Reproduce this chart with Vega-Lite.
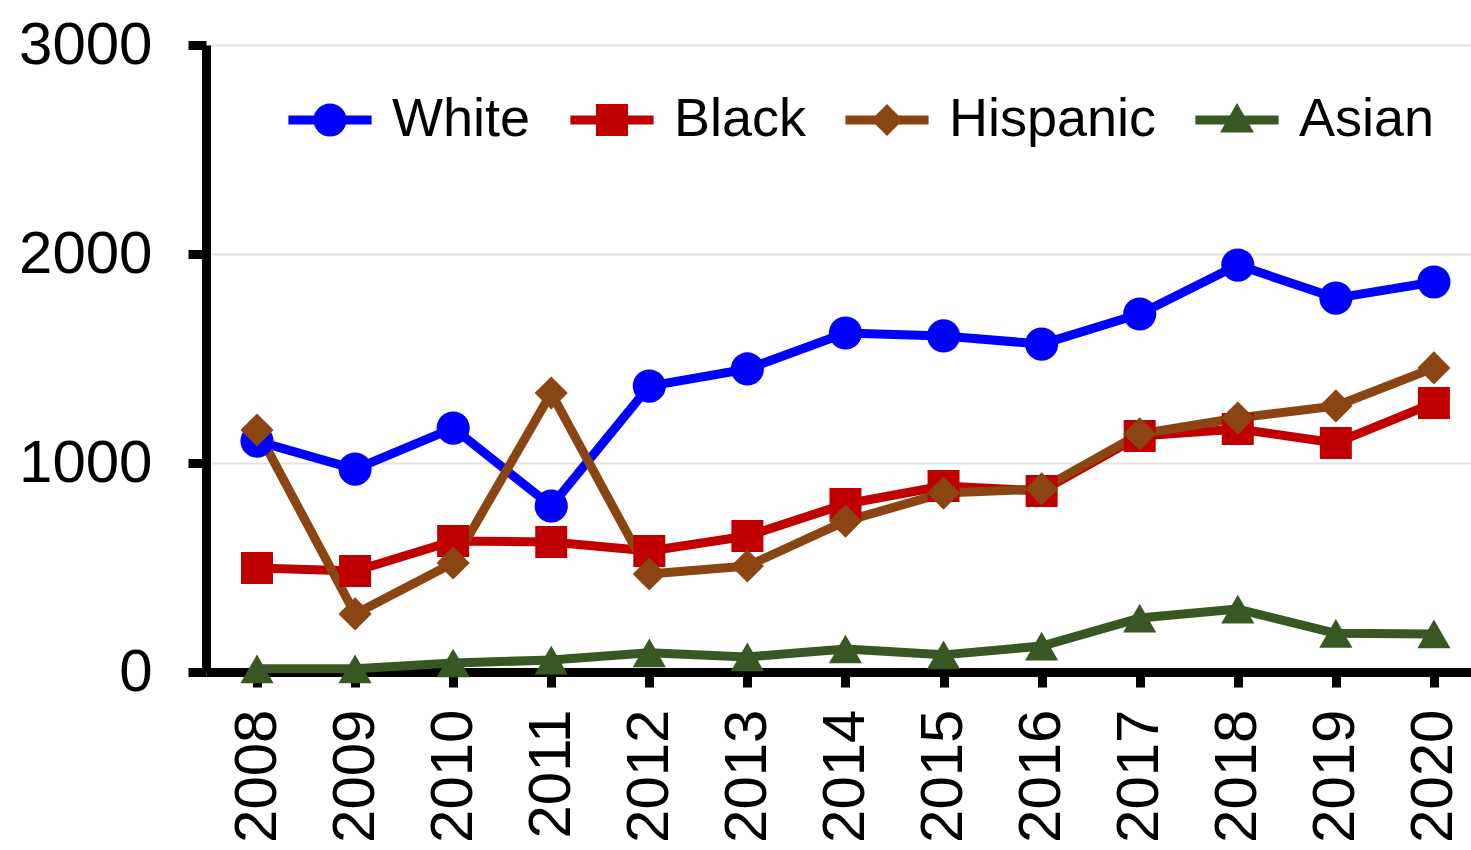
{
  "$schema": "https://vega.github.io/schema/vega-lite/v6.json",
  "width": 1265,
  "height": 627,
  "autosize": {"type": "none"},
  "padding": {"left": 206, "top": 45, "right": 0, "bottom": 178},
  "background": "white",
  "config": {
    "view": {"stroke": null},
    "font": "Liberation Sans"
  },
  "data": {
    "values": [
      {"year": 2008, "series": "White", "value": 1105},
      {"year": 2009, "series": "White", "value": 971},
      {"year": 2010, "series": "White", "value": 1167},
      {"year": 2011, "series": "White", "value": 794},
      {"year": 2012, "series": "White", "value": 1368},
      {"year": 2013, "series": "White", "value": 1450},
      {"year": 2014, "series": "White", "value": 1622},
      {"year": 2015, "series": "White", "value": 1608},
      {"year": 2016, "series": "White", "value": 1569},
      {"year": 2017, "series": "White", "value": 1713},
      {"year": 2018, "series": "White", "value": 1947},
      {"year": 2019, "series": "White", "value": 1789},
      {"year": 2020, "series": "White", "value": 1866},
      {"year": 2008, "series": "Black", "value": 498},
      {"year": 2009, "series": "Black", "value": 483},
      {"year": 2010, "series": "Black", "value": 627},
      {"year": 2011, "series": "Black", "value": 622},
      {"year": 2012, "series": "Black", "value": 579},
      {"year": 2013, "series": "Black", "value": 651},
      {"year": 2014, "series": "Black", "value": 804},
      {"year": 2015, "series": "Black", "value": 890},
      {"year": 2016, "series": "Black", "value": 866},
      {"year": 2017, "series": "Black", "value": 1129},
      {"year": 2018, "series": "Black", "value": 1163},
      {"year": 2019, "series": "Black", "value": 1096},
      {"year": 2020, "series": "Black", "value": 1287},
      {"year": 2008, "series": "Hispanic", "value": 1158},
      {"year": 2009, "series": "Hispanic", "value": 278},
      {"year": 2010, "series": "Hispanic", "value": 522},
      {"year": 2011, "series": "Hispanic", "value": 1335},
      {"year": 2012, "series": "Hispanic", "value": 469},
      {"year": 2013, "series": "Hispanic", "value": 507},
      {"year": 2014, "series": "Hispanic", "value": 722},
      {"year": 2015, "series": "Hispanic", "value": 856},
      {"year": 2016, "series": "Hispanic", "value": 876},
      {"year": 2017, "series": "Hispanic", "value": 1139},
      {"year": 2018, "series": "Hispanic", "value": 1215},
      {"year": 2019, "series": "Hispanic", "value": 1273},
      {"year": 2020, "series": "Hispanic", "value": 1455},
      {"year": 2008, "series": "Asian", "value": 15},
      {"year": 2009, "series": "Asian", "value": 15},
      {"year": 2010, "series": "Asian", "value": 43},
      {"year": 2011, "series": "Asian", "value": 57},
      {"year": 2012, "series": "Asian", "value": 92},
      {"year": 2013, "series": "Asian", "value": 72},
      {"year": 2014, "series": "Asian", "value": 110},
      {"year": 2015, "series": "Asian", "value": 82},
      {"year": 2016, "series": "Asian", "value": 124},
      {"year": 2017, "series": "Asian", "value": 258},
      {"year": 2018, "series": "Asian", "value": 301},
      {"year": 2019, "series": "Asian", "value": 185},
      {"year": 2020, "series": "Asian", "value": 182}
    ]
  },
  "encoding": {
    "x": {
      "field": "year",
      "type": "quantitative",
      "scale": {"domain": [2007.48, 2020.378], "nice": false, "zero": false},
      "axis": {
        "title": null,
        "values": [2008, 2009, 2010, 2011, 2012, 2013, 2014, 2015, 2016, 2017, 2018, 2019, 2020],
        "format": "d",
        "labelAngle": -90,
        "labelFontSize": 60,
        "labelFont": "Liberation Sans",
        "labelColor": "black",
        "labelPadding": 22,
        "labelFlush": false,
        "labelOverlap": false,
        "grid": false,
        "domainColor": "black",
        "domainWidth": 9,
        "tickColor": "black",
        "tickWidth": 9,
        "tickSize": 15
      }
    },
    "y": {
      "field": "value",
      "type": "quantitative",
      "scale": {"domain": [0, 3000], "nice": false},
      "axis": {
        "title": null,
        "values": [0, 1000, 2000, 3000],
        "format": "d",
        "labelFontSize": 60,
        "labelFont": "Liberation Sans",
        "labelColor": "black",
        "labelPadding": 36,
        "labelFlush": false,
        "labelOverlap": false,
        "grid": true,
        "gridColor": "#e2e2e2",
        "gridWidth": 2,
        "domainColor": "black",
        "domainWidth": 9,
        "tickColor": "black",
        "tickWidth": 9,
        "tickSize": 18
      }
    }
  },
  "layer": [
    {
      "mark": {"type": "line", "strokeWidth": 9, "strokeJoin": "round", "strokeCap": "round"},
      "encoding": {
        "stroke": {
          "field": "series",
          "type": "nominal",
          "scale": {"domain": ["White", "Black", "Hispanic", "Asian"], "range": ["#0000ff", "#c00000", "#8b4513", "#385723"]},
          "legend": null
        }
      }
    },
    {
      "transform": [{"filter": "datum.series === 'White'"}],
      "mark": {"type": "point", "shape": "circle", "filled": true, "size": 1100, "opacity": 1},
      "encoding": {
        "color": {
          "field": "series",
          "type": "nominal",
          "scale": {"domain": ["White"], "range": ["#0000ff"]},
          "legend": {"title": null, "orient": "none", "legendX": 82, "legendY": 48, "symbolType": "M-2.6,0H2.6M0.75,0C0.75,0.41,0.41,0.75,0,0.75C-0.41,0.75,-0.75,0.41,-0.75,0C-0.75,-0.41,-0.41,-0.75,0,-0.75C0.41,-0.75,0.75,-0.41,0.75,0Z", "symbolSize": 1024, "symbolStrokeColor": "#0000ff", "symbolStrokeWidth": 9, "symbolOffset": 15, "labelOffset": 35, "labelFontSize": 54, "labelColor": "black", "labelLimit": 400}
        }
      }
    },
    {
      "transform": [{"filter": "datum.series === 'Black'"}],
      "mark": {"type": "point", "shape": "square", "filled": true, "size": 1024, "opacity": 1},
      "encoding": {
        "color": {
          "field": "series",
          "type": "nominal",
          "scale": {"domain": ["Black"], "range": ["#c00000"]},
          "legend": {"title": null, "orient": "none", "legendX": 364, "legendY": 48, "symbolType": "M-2.6,0H2.6M-0.72,-0.72H0.72V0.72H-0.72Z", "symbolSize": 1024, "symbolStrokeColor": "#c00000", "symbolStrokeWidth": 9, "symbolOffset": 15, "labelOffset": 35, "labelFontSize": 54, "labelColor": "black", "labelLimit": 400}
        }
      }
    },
    {
      "transform": [{"filter": "datum.series === 'Hispanic'"}],
      "mark": {"type": "point", "shape": "diamond", "filled": true, "size": 1100, "opacity": 1},
      "encoding": {
        "color": {
          "field": "series",
          "type": "nominal",
          "scale": {"domain": ["Hispanic"], "range": ["#8b4513"]},
          "legend": {"title": null, "orient": "none", "legendX": 639, "legendY": 48, "symbolType": "M-2.6,0H2.6M0,-0.6L0.6,0L0,0.6L-0.6,0Z", "symbolSize": 1024, "symbolStrokeColor": "#8b4513", "symbolStrokeWidth": 9, "symbolOffset": 15, "labelOffset": 35, "labelFontSize": 54, "labelColor": "black", "labelLimit": 400}
        }
      }
    },
    {
      "transform": [{"filter": "datum.series === 'Asian'"}],
      "mark": {"type": "point", "shape": "triangle-up", "filled": true, "size": 1100, "opacity": 1},
      "encoding": {
        "color": {
          "field": "series",
          "type": "nominal",
          "scale": {"domain": ["Asian"], "range": ["#385723"]},
          "legend": {"title": null, "orient": "none", "legendX": 989, "legendY": 48, "symbolType": "M-2.6,0H2.6M0,-0.5L0.575,0.5L-0.575,0.5Z", "symbolSize": 1024, "symbolStrokeColor": "#385723", "symbolStrokeWidth": 9, "symbolOffset": 15, "labelOffset": 35, "labelFontSize": 54, "labelColor": "black", "labelLimit": 400}
        }
      }
    }
  ],
  "resolve": {"scale": {"color": "independent"}}
}
